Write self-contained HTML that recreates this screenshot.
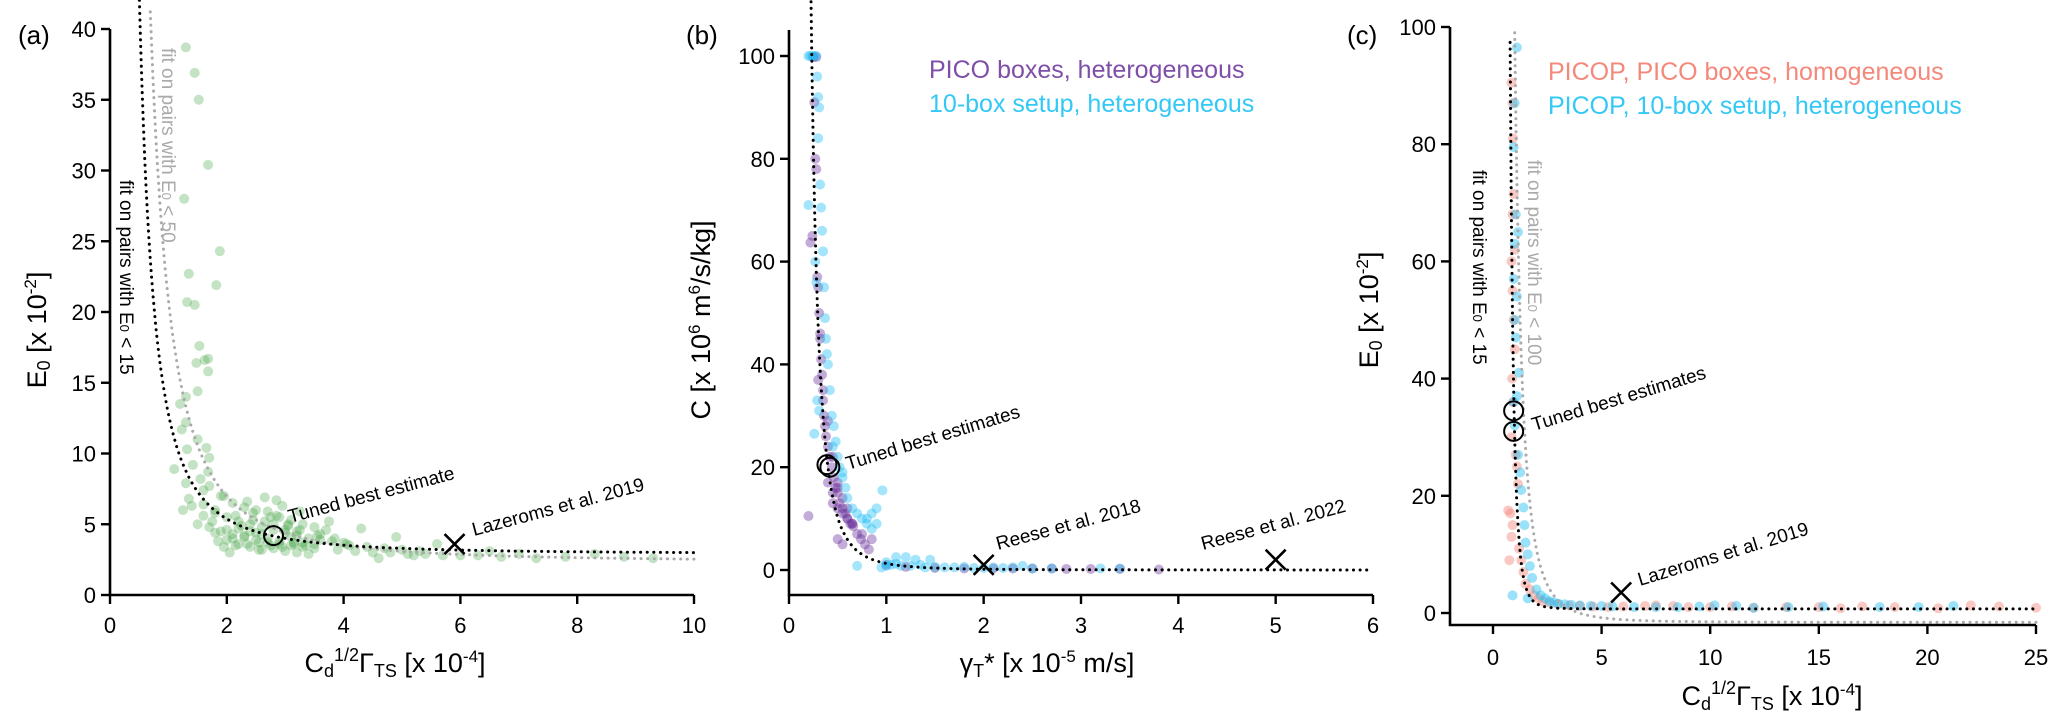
<!DOCTYPE html>
<html><head><meta charset="utf-8"><style>
html,body{margin:0;padding:0;background:#fff;}
svg{display:block;font-family:"Liberation Sans","DejaVu Sans",sans-serif;}
</style></head><body>
<svg id="fig" width="2067" height="718" viewBox="0 0 2067 718" xmlns="http://www.w3.org/2000/svg">
<g id="pa"></g>
<g id="pb"></g>
<g id="pc"></g>
</svg>
<script>
// ---------- DATA ----------
const aXTicks=[0,2,4,6,8,10];
const aYTicks=[0,5,10,15,20,25,30,35,40];
const aGreenX=[1.3,1.45,1.52,1.68,1.27,1.88,1.35,1.82,1.32,1.45,1.53,1.62,1.68,1.48,1.68,1.5,1.3,1.2,1.3,1.23,1.5,1.32,1.65,1.7,1.1,1.42,1.68,1.3,1.55,1.7,1.9,2.1,2.3,2.5,2.7,2.9,3.1,3.3,3.5,3.7,1.25,1.4,1.6,1.8,2.0,2.2,2.4,2.6,2.8,3.0,3.2,3.4,3.6,3.8,4.0,1.5,1.7,1.9,2.1,2.3,2.5,2.7,2.9,3.1,3.3,3.5,3.9,4.2,4.5,4.8,5.1,5.4,5.7,6.0,6.3,6.7,7.0,7.3,7.8,8.3,8.8,9.3,2.0,2.2,2.4,2.6,2.8,3.0,3.2,3.4,1.8,2.15,2.45,2.75,3.05,3.6,4.1,4.6,5.2,5.6,6.5,1.35,1.6,1.95,2.35,2.65,2.95,3.25,3.75,4.3,4.9,2.05,2.55,3.15,1.75,2.25,2.85,1.85,2.1,2.3,2.5,2.7,2.9,3.1,3.3,3.5,2.0,2.2,2.4,2.6,2.8,3.0,3.2,1.95,2.15,2.35,2.55,2.75,2.95,3.15,3.35,3.55,3.85,4.05,4.4,4.7,5.0,5.3,1.6,1.8,2.45,2.65,2.85,3.05,3.25];
const aGreenY=[38.7,36.9,35,30.4,28,24.3,22.7,21.9,20.7,20.5,17.6,16.6,16.7,16.4,15.8,14.4,14,13.5,12.2,11.7,11,10.3,10.4,9.7,8.9,9.2,8.7,7.9,8.2,7.7,7.0,6.5,6.2,6.0,5.9,5.5,5.3,5.0,4.8,4.6,6.0,6.3,6.4,5.8,5.5,5.2,5.0,4.8,4.6,4.4,4.2,4.0,3.9,3.8,3.7,5.0,4.8,4.5,4.3,4.1,3.9,3.7,3.6,3.5,3.4,3.3,3.2,3.1,3.0,3.0,2.9,2.9,2.8,2.8,2.8,2.7,2.9,2.6,2.7,2.9,2.7,2.6,3.9,3.6,3.4,3.2,3.3,3.1,3.0,2.9,4.4,5.6,5.8,5.5,4.9,4.3,3.5,2.6,2.8,3.6,3.1,6.8,7.4,7.0,6.6,6.9,6.3,5.9,5.2,4.7,4.1,3.0,3.2,3.7,5.2,4.9,6.7,3.8,4.0,4.2,4.4,4.0,3.8,4.1,3.7,3.6,4.6,4.7,4.5,4.3,5.0,4.6,4.5,3.4,3.5,3.6,3.7,3.5,3.4,3.6,3.5,4.2,4.0,3.6,3.4,3.3,3.2,3.1,5.6,6.0,5.3,5.2,5.6,5.0,4.6];
const bPurpleX=[0.22,0.24,0.26,0.27,0.28,0.29,0.3,0.31,0.32,0.33,0.34,0.35,0.36,0.37,0.38,0.4,0.42,0.44,0.46,0.48,0.5,0.52,0.55,0.58,0.6,0.63,0.66,0.7,0.74,0.78,0.82,0.3,0.35,0.4,0.45,0.5,0.55,0.6,0.65,0.2,0.45,0.5,0.75,0.85,1.0,1.2,1.5,1.8,2.1,2.3,2.5,2.7,2.85,3.1,3.4,3.8,0.25,0.28,0.32,0.4,0.45,0.5,0.55,0.6,0.65,0.5,0.55];
const bPurpleY=[63.7,65,91,80,78,57,55,50,46,41,38,35,30,28,26,24,22,20,18,16,15,13,12,11,10,9,8.5,7,6,5,4,37,33,29,22,17,14,12,9,10.5,13,16,7,6,1,0.6,0.4,0.3,0.3,0.3,0.3,0.3,0.2,0.2,0.2,0.1,99.8,99.8,45,17,15,12,11,10,9,6,5];
const bCyanX=[0.2,0.22,0.24,0.26,0.28,0.29,0.3,0.31,0.3,0.32,0.33,0.34,0.35,0.36,0.37,0.38,0.39,0.4,0.42,0.44,0.46,0.48,0.5,0.52,0.55,0.58,0.6,0.65,0.7,0.75,0.8,0.85,0.9,0.96,0.7,1.0,1.05,1.1,1.15,1.2,1.25,1.3,1.4,1.5,1.6,1.7,1.8,1.9,2.0,2.1,2.2,2.3,2.4,2.5,2.7,3.2,3.4,0.2,0.28,0.27,0.26,0.29,0.31,0.45,0.55,0.85,1.35,1.45,0.95,1.0,1.1,0.9,0.8];
const bCyanY=[100,100,100,100,100,96,92,90,84,75,70.5,66,62,55,49,45,42,40,35,30,28,25,22,20,18,16,14,12,11,10,9,8,9,15.5,0.8,1.5,1,2.5,0.8,2.5,0.8,2,0.5,0.6,0.5,0.5,0.6,0.4,0.4,0.5,0.4,0.5,0.8,0.3,0.3,0.3,0.3,71,56,60,26.5,33,31,24,19,11,1,2,0.5,0.8,1.2,12,10];
const cSalmonX=[0.85,0.9,0.92,0.95,0.9,1.0,0.85,0.9,0.95,1.0,0.88,0.92,0.85,1.05,1.1,1.15,0.8,0.9,0.85,1.2,1.3,1.4,1.5,1.7,1.9,2.1,2.3,2.6,3.0,3.5,4.0,4.6,5.3,6.0,7.0,7.5,8.3,9.0,10.0,11.0,12.0,13.5,15.0,16.0,17.0,18.5,20.5,22.0,23.3,25.0,0.7,0.75];
const cSalmonY=[90.5,87,81,71.5,68,62,60,55,50,45,40,36,30,27,25,22,17,15,13,11,9,7,5,4,3,2.5,2,1.8,1.5,1.3,1.2,1.1,1.0,1.1,1.2,1.3,1.2,1.0,1.0,1.1,0.9,1.0,1.0,0.8,1.1,1.0,0.8,1.3,1.1,0.9,17.5,9];
const cCyanX=[1.1,1.0,0.95,1.05,1.0,1.15,0.95,1.1,1.0,1.05,1.2,1.1,1.0,1.15,1.25,1.3,1.4,1.45,1.5,1.6,1.7,1.8,2.0,2.2,2.4,2.6,2.8,3.0,3.3,3.6,4.0,4.5,5.0,5.5,6.5,7.5,8.5,9.5,10.2,11.2,12.0,13.6,15.2,17.8,19.6,21.2,0.95,1.6,0.9];
const cCyanY=[96.5,87,79.5,68,63,65,57,54,50,47,41,37,32,27,24,21,18,15,12,10,8,6,4,3,2.5,2,1.8,1.6,1.5,1.4,1.3,1.2,1.2,1.1,1.0,1.0,1.0,1.1,1.3,1.2,0.9,1.0,1.1,1.0,1.0,1.2,36,2.5,3];
const bXTicks=[0,1,2,3,4,5,6];
const bYTicks=[0,20,40,60,80,100];
const cXTicks=[0,5,10,15,20,25];
const cYTicks=[0,20,40,60,80,100];
// ---------- HELPERS ----------
const NS="http://www.w3.org/2000/svg";
function el(parent,tag,attrs,text){const e=document.createElementNS(NS,tag);for(const k in attrs)e.setAttribute(k,attrs[k]);if(text!==undefined)e.textContent=text;parent.appendChild(e);return e;}
function lin(d0,d1,r0,r1){return v=>r0+(v-d0)*(r1-r0)/(d1-d0);}
function curve(g,fx,fy,f,x0,x1,color,name){let d="";const n=400;for(let i=0;i<=n;i++){const x=x0+(x1-x0)*i/n;const y=f(x);d+=(i?"L":"M")+fx(x).toFixed(1)+","+fy(y).toFixed(1);}
 const p=el(g,"path",{d:d,fill:"none",stroke:color,"stroke-width":3,"stroke-dasharray":"0.1 6.5","stroke-linecap":"round"});
 
 }
function dots(g,xs,ys,fx,fy,color,op,name){for(let i=0;i<xs.length;i++){const c=el(g,"circle",{cx:fx(xs[i]),cy:fy(ys[i]),r:5,fill:color,"fill-opacity":op});
 
 }}
function cross(g,x,y,name){const s=10;const p=el(g,"path",{d:`M${x-s},${y-s}L${x+s},${y+s}M${x-s},${y+s}L${x+s},${y-s}`,stroke:"#000","stroke-width":2.6,fill:"none"});
 
 }
function ring(g,x,y,name){const c=el(g,"circle",{cx:x,cy:y,r:9.5,fill:"none",stroke:"#000","stroke-width":2});
 
 }
function txt(g,x,y,s,opts,name){const a=Object.assign({x:x,y:y,"font-size":19,fill:"#000"},opts||{});const t=el(g,"text",a);t.innerHTML=s;
 
 return t;}
function axes(g,xl,xr,yt,yb,fx,fy,xt,yt2,tickY){
 const sp=el(g,"path",{d:`M${xl},${yt}L${xl},${yb}L${xr},${yb}`,fill:"none",stroke:"#000","stroke-width":2.6});
 
 
 xt.forEach(v=>{const x=fx(v);el(g,"line",{x1:x,x2:x,y1:yb,y2:yb+9,stroke:"#000","stroke-width":2.4});
  txt(g,x,tickY,String(v),{"font-size":22,"text-anchor":"middle"},'x-tick-label');});
 yt2.forEach(v=>{const y=fy(v);el(g,"line",{x1:xl-9,x2:xl,y1:y,y2:y,stroke:"#000","stroke-width":2.4});
  txt(g,xl-14,y+8,String(v),{"font-size":22,"text-anchor":"end"},'y-tick-label');});}
const XT="C<tspan font-size='18' dy='5'>d</tspan><tspan font-size='18' dy='-16'>1/2</tspan><tspan dy='11'>Γ</tspan><tspan font-size='18' dy='5'>TS</tspan><tspan dy='-5'> [x 10</tspan><tspan font-size='17' dy='-10'>-4</tspan><tspan dy='10'>]</tspan>";
const E0T="E<tspan font-size='18' dy='4'>0</tspan><tspan dy='-4'> [x 10</tspan><tspan font-size='17' dy='-10'>-2</tspan><tspan dy='10'>]</tspan>";
// ---------- PANEL A ----------
(function(){const g=document.getElementById("pa");
 const fx=lin(0,10,110,694),fy=lin(0,40,595,29);
 dots(g,aGreenX,aGreenY,fx,fy,"#3c9e3c",0.3,"green-point");
 curve(g,fx,fy,x=>2.35+18.5/(x*x),0.69,10,"#aaaaaa","fit-line-gray");
 curve(g,fx,fy,x=>2.9+9.9/(x*x),0.5,10,"#000","fit-line-black");
 axes(g,110,694,29,595,fx,fy,aXTicks,aYTicks,633);
 ring(g,fx(2.8),fy(4.2),"tuned-best-estimate-marker");
 cross(g,fx(5.9),fy(3.6),"lazeroms-marker");
 txt(g,290,523,"Tuned best estimate",{transform:"rotate(-15 290 523)"},"annotation-tuned");
 txt(g,474,536,"Lazeroms et al. 2019",{transform:"rotate(-15 474 536)"},"annotation-lazeroms");
 txt(g,120,180,"fit on pairs with E<tspan font-size='13'>0</tspan> &lt; 15",{transform:"rotate(90 120 180)"},"fit-label-black");
 txt(g,162,48,"fit on pairs with E<tspan font-size='13'>0</tspan> &lt; 50",{fill:"#aaa",transform:"rotate(90 162 48)"},"fit-label-gray");
 txt(g,18,44,"(a)",{"font-size":26},"panel-label-a");
 txt(g,46,330,E0T,{"font-size":27,"text-anchor":"middle",transform:"rotate(-90 46 330)"},"y-axis-title-a");
 txt(g,395,672,XT,{"font-size":27,"text-anchor":"middle"},"x-axis-title-a");
})();
// ---------- PANEL B ----------
(function(){const g=document.getElementById("pb");
 const fx=lin(0,6,789,1373),fy=lin(0,100,570,56);
 dots(g,bPurpleX,bPurpleY,fx,fy,"#6a2f9a",0.4,"purple-point");
 dots(g,bCyanX,bCyanY,fx,fy,"#1fbef4",0.4,"cyan-point");
 curve(g,fx,fy,x=>1.28/(x*x*x),0.222,6,"#000","fit-line-b");
 axes(g,789,1373,30,595,fx,fy,bXTicks,bYTicks,633);
 ring(g,fx(0.39),fy(20.5),"tuned-estimate-ring-1");ring(g,fx(0.42),fy(20),"tuned-estimate-ring-2");
 cross(g,fx(2),fy(1),"reese-2018-marker");cross(g,fx(5),fy(2),"reese-2022-marker");
 txt(g,848,470,"Tuned best estimates",{transform:"rotate(-17 848 470)"},"annotation-tuned-b");
 txt(g,998,550,"Reese et al. 2018",{transform:"rotate(-15 998 550)"},"annotation-reese-2018");
 txt(g,1203,550,"Reese et al. 2022",{transform:"rotate(-15 1203 550)"},"annotation-reese-2022");
 txt(g,929,78,"PICO boxes, heterogeneous",{"font-size":25,fill:"#7e4ea8"},"legend-entry-pico");
 txt(g,929,112,"10-box setup, heterogeneous",{"font-size":25,fill:"#33c8f5"},"legend-entry-10box");
 txt(g,686,44,"(b)",{"font-size":26},"panel-label-b");
 txt(g,710,320,"C [x 10<tspan font-size='17' dy='-10'>6</tspan><tspan dy='10'> m</tspan><tspan font-size='17' dy='-10'>6</tspan><tspan dy='10'>/s/kg]</tspan>",{"font-size":27,"text-anchor":"middle",transform:"rotate(-90 710 320)"},"y-axis-title-b");
 txt(g,1047,672,"γ<tspan font-size='18' dy='5'>T</tspan><tspan dy='-5'>* [x 10</tspan><tspan font-size='17' dy='-10'>-5</tspan><tspan dy='10'> m/s]</tspan>",{"font-size":27,"text-anchor":"middle"},"x-axis-title-b");
})();
// ---------- PANEL C ----------
(function(){const g=document.getElementById("pc");
 const fx=lin(0,25,1493,2036),fy=lin(0,100,613,27);
 dots(g,cSalmonX,cSalmonY,fx,fy,"#f4887a",0.45,"salmon-point");
 dots(g,cCyanX,cCyanY,fx,fy,"#1fbef4",0.45,"cyan-point-c");
 curve(g,fx,fy,x=>-1.6+100/(x*x*x),0.998,25,"#aaaaaa","fit-line-gray-c");
 curve(g,fx,fy,x=>0.7+29/Math.pow(x,5),0.786,25,"#000","fit-line-black-c");
 axes(g,1450,2036,27,625,fx,fy,cXTicks,cYTicks,665);
 ring(g,fx(0.95),fy(34.5),"tuned-estimate-ring-c1");ring(g,fx(0.95),fy(31),"tuned-estimate-ring-c2");
 cross(g,fx(5.9),fy(3.5),"lazeroms-marker-c");
 txt(g,1534,431,"Tuned best estimates",{transform:"rotate(-17 1534 431)"},"annotation-tuned-c");
 txt(g,1640,586,"Lazeroms et al. 2019",{transform:"rotate(-17 1640 586)"},"annotation-lazeroms-c");
 txt(g,1473,170,"fit on pairs with E<tspan font-size='13'>0</tspan> &lt; 15",{transform:"rotate(90 1473 170)"},"fit-label-black-c");
 txt(g,1528,160,"fit on pairs with E<tspan font-size='13'>0</tspan> &lt; 100",{fill:"#aaa",transform:"rotate(90 1528 160)"},"fit-label-gray-c");
 txt(g,1548,80,"PICOP, PICO boxes, homogeneous",{"font-size":25,fill:"#f4887a"},"legend-entry-picop-homog");
 txt(g,1548,114,"PICOP, 10-box setup, heterogeneous",{"font-size":25,fill:"#33c8f5"},"legend-entry-picop-10box");
 txt(g,1347,44,"(c)",{"font-size":26},"panel-label-c");
 txt(g,1378,310,E0T,{"font-size":27,"text-anchor":"middle",transform:"rotate(-90 1378 310)"},"y-axis-title-c");
 txt(g,1772,705,XT,{"font-size":27,"text-anchor":"middle"},"x-axis-title-c");
})();
</script>
</body></html>
